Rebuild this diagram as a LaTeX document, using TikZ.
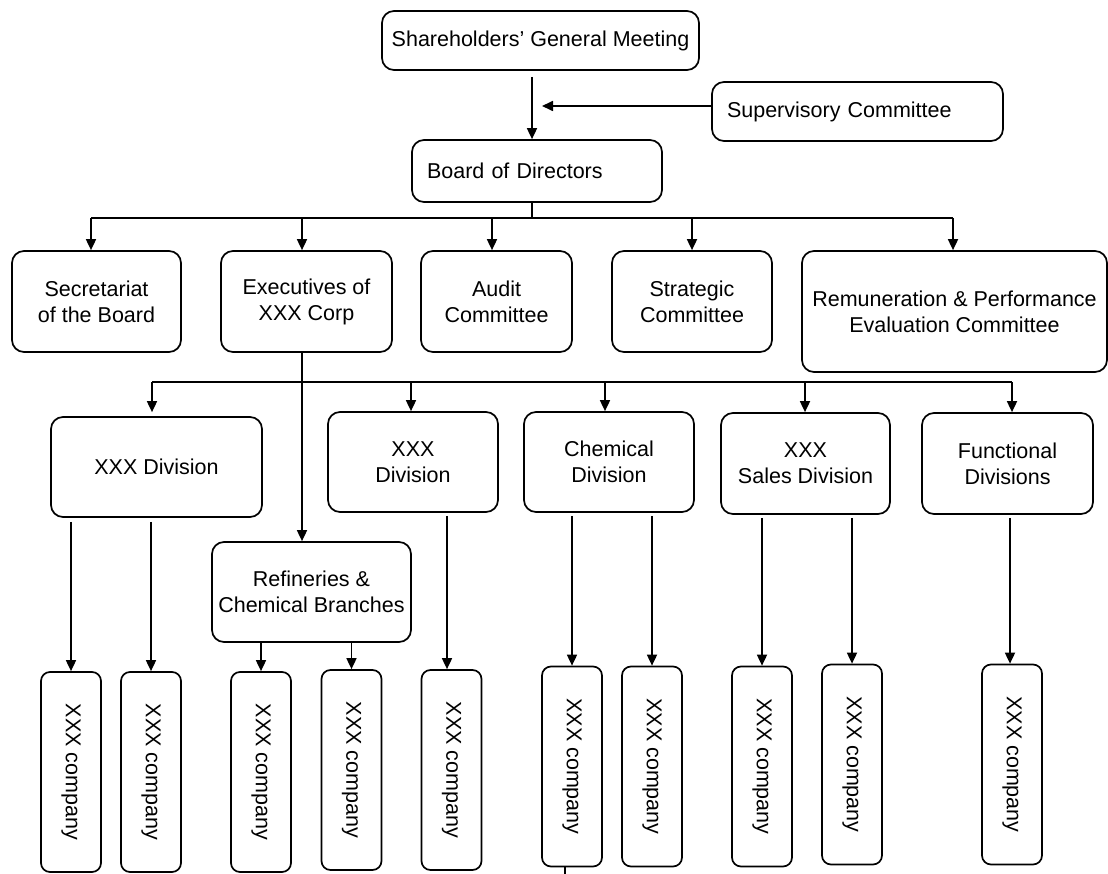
\documentclass[tikz,border=0pt]{standalone}
\usepackage{fontspec}
\setmainfont{Liberation Sans}
\usetikzlibrary{arrows.meta}
\begin{document}
\begin{tikzpicture}[x=1pt,y=-1pt,
  font=\fontsize{21.5}{26}\selectfont,
  line width=1.7pt,
  box/.style={draw,rectangle,rounded corners=12pt,inner sep=0pt,align=center},
  lbox/.style={draw,rectangle,rounded corners=12pt,inner ysep=0pt,inner xsep=15pt,align=left},
  cbox/.style={draw,rectangle,rounded corners=9pt,inner sep=0pt,minimum width=60pt,minimum height=200pt},
  arr/.style={-{Triangle[length=11pt,width=10pt]}}]
\useasboundingbox (0,0) rectangle (1108,874);

% top
\node[box,minimum width=317pt,minimum height=59pt] (sgm) at (540.5,40.5) {Shareholders’ General Meeting};
\node[lbox,text width=261pt,minimum height=59pt] (sup) at (857.5,111.5) {Supervisory Committee};
\node[lbox,text width=220pt,minimum height=62pt] (bod) at (537,171) {Board of Directors};

% level 2
\node[box,minimum width=169pt,minimum height=101pt] (sec) at (96.5,301.5) {Secretariat\\of the Board};
\node[box,minimum width=171pt,minimum height=101pt] (exe) at (306.5,301.5) {Executives of\\XXX Corp};
\node[box,minimum width=151pt,minimum height=101pt] (aud) at (496.5,301.5) {Audit\\Committee};
\node[box,minimum width=160pt,minimum height=101pt] (str) at (692,301.5) {Strategic\\Committee};
\node[box,minimum width=305pt,minimum height=121pt] (rem) at (954.5,311.5) {Remuneration \& Performance\\Evaluation Committee};

% level 3
\node[box,minimum width=211pt,minimum height=100pt] (div1) at (156.5,467) {XXX Division};
\node[box,minimum width=199pt,minimum height=100pt] (ref) at (311.5,592) {Refineries \&\\Chemical Branches};
\node[box,minimum width=170pt,minimum height=100pt] (div2) at (413,462) {XXX\\Division};
\node[box,minimum width=170pt,minimum height=100pt] (chem) at (609,462) {Chemical\\Division};
\node[box,minimum width=169pt,minimum height=101pt] (sales) at (805.5,463.5) {XXX\\Sales Division};
\node[box,minimum width=171pt,minimum height=101pt] (func) at (1007.5,463.5) {Functional\\Divisions};

% companies
\foreach \n/\x/\y in {c1/71/772,c2/151/772,c3/261/772,c4/351.5/770,c5/451.5/770,
                      c6/572/766.5,c7/652/766.5,c8/762/766.5,c9/852/764.5,c10/1012/764.5}{
  \node[cbox,label={[rotate=-90]center:XXX company}] (\n) at (\x,\y) {};
}

% connectors top
\coordinate (t1) at (532,0);
\draw[arr,shorten <=6pt] (sgm.south -| t1) -- (bod.north -| t1);
\coordinate (supend) at (542,106);
\draw[arr] (sup.west |- supend) -- (supend);

% bus 1
\coordinate (bus1) at (532,218);
\coordinate (asec) at ([xshift=-5.5pt]sec.north);
\coordinate (aexe) at ([xshift=-4.5pt]exe.north);
\coordinate (aaud) at ([xshift=-4.5pt]aud.north);
\coordinate (arem) at ([xshift=-1.5pt]rem.north);
\draw (bod.south -| bus1) -- (bus1);
\draw (asec |- bus1) -- (arem |- bus1);
\draw[arr] (asec |- bus1) -- (asec);
\draw[arr] (aexe |- bus1) -- (aexe);
\draw[arr] (aaud |- bus1) -- (aaud);
\draw[arr] (str.north |- bus1) -- (str.north);
\draw[arr] (arem |- bus1) -- (arem);

% exec down to refineries, bus 2
\coordinate (exs) at ([xshift=-4.5pt]exe.south);
\draw[arr] (exs) -- (ref.north -| exs);
\coordinate (bus2) at (0,382);
\coordinate (adiv1) at ([xshift=-4.5pt,yshift=4pt]div1.north);
\coordinate (adiv2) at ([xshift=-2pt]div2.north);
\coordinate (achem) at ([xshift=-4pt]chem.north);
\coordinate (asal) at ([xshift=-0.5pt]sales.north);
\coordinate (afunc) at ([xshift=4.5pt]func.north);
\draw (adiv1 |- bus2) -- (afunc |- bus2);
\draw[arr] (adiv1 |- bus2) -- (adiv1);
\draw[arr] (adiv2 |- bus2) -- (adiv2);
\draw[arr] (achem |- bus2) -- (achem);
\draw[arr] (asal |- bus2) -- (asal);
\draw[arr] (afunc |- bus2) -- (afunc);

% level 4
\coordinate (ac5) at ([xshift=-4.5pt]c5.north);
\coordinate (ac10) at ([xshift=-2pt]c10.north);
\draw[arr,shorten <=4pt] (div1.south -| c1.north) -- (c1.north);
\draw[arr,shorten <=4pt] (div1.south -| c2.north) -- (c2.north);
\draw[arr] (ref.south -| c3.north) -- (c3.north);
\draw[arr] (ref.south -| c4.north) -- (c4.north);
\draw[arr,shorten <=3pt] (div2.south -| ac5) -- (ac5);
\draw[arr,shorten <=3pt] (chem.south -| c6.north) -- (c6.north);
\draw[arr,shorten <=3pt] (chem.south -| c7.north) -- (c7.north);
\draw[arr,shorten <=3pt] (sales.south -| c8.north) -- (c8.north);
\draw[arr,shorten <=3pt] (sales.south -| c9.north) -- (c9.north);
\draw[arr,shorten <=3pt] (func.south -| ac10) -- (ac10);

% stub below c6
\coordinate (c6end) at (565,874);
\draw (c6.south -| c6end) -- (c6end);
\end{tikzpicture}
\end{document}
